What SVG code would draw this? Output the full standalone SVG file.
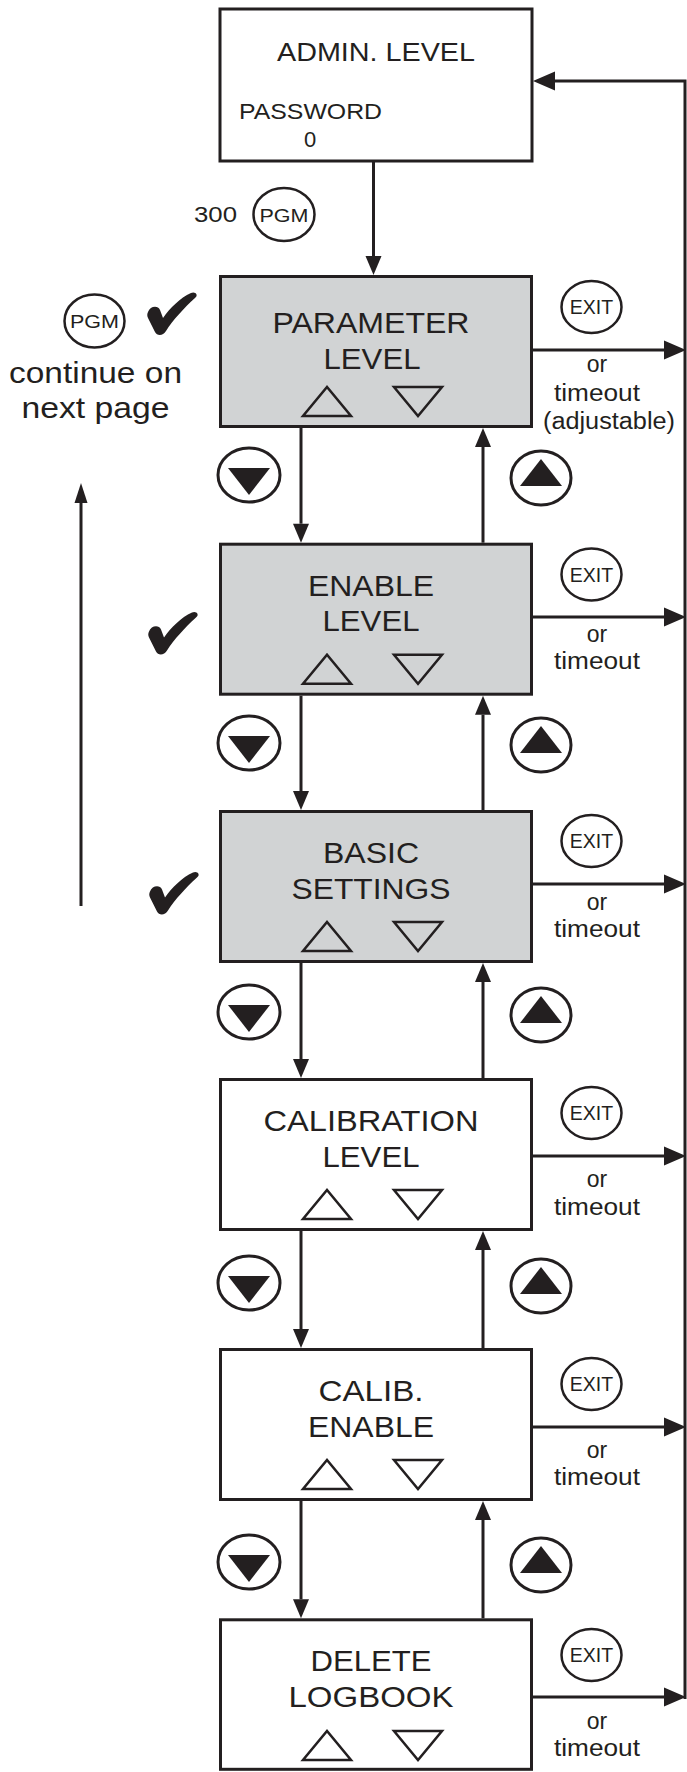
<svg xmlns="http://www.w3.org/2000/svg" width="687" height="1772" viewBox="0 0 687 1772">
<style>
text{font-family:"Liberation Sans",Arial,Helvetica,sans-serif;fill:#231f20}
.box{stroke:#231f20;stroke-width:3;fill:#fff}
.gray{fill:#d1d3d4}
.lbl{font-size:30px;text-anchor:middle}
.tri{fill:none;stroke:#231f20;stroke-width:2.5;stroke-linejoin:miter}
.btn{fill:#fff;stroke:#231f20;stroke-width:3}
.btri{fill:#231f20}
.oval{fill:#fff;stroke:#231f20;stroke-width:2.5}
.ex{font-size:19.5px;text-anchor:middle}
.pg{font-size:19px;text-anchor:middle}
.sm{font-size:23px;text-anchor:middle}
.ln{stroke:#231f20;stroke-width:3;fill:none}
.chk{fill:#231f20}
</style>
<defs>
<marker id="ah" markerWidth="19" markerHeight="16" refX="0" refY="8" orient="auto" markerUnits="userSpaceOnUse" overflow="visible"><path d="M0,0 L19,8 L0,16 Z" fill="#231f20"/></marker>
<marker id="ahx" markerWidth="22" markerHeight="19" refX="0" refY="9.5" orient="auto" markerUnits="userSpaceOnUse" overflow="visible"><path d="M0,0 L22,9.5 L0,19 Z" fill="#231f20"/></marker>
<marker id="ahs" markerWidth="20" markerHeight="13" refX="0" refY="6.5" orient="auto" markerUnits="userSpaceOnUse" overflow="visible"><path d="M0,0 L20,6.5 L0,13 Z" fill="#231f20"/></marker>
<path id="check" d="M2,20 C4,14 12,13 14,18 L17,26 C24,16 34,6 45,1 C49,-1 53,3 49,6 C38,16 27,28 20,39 C17,44 11,44 9,40 L2,26 C1,24 1,22 2,20 Z"/>
<path id="dtri" d="M-21,-7 L21,-7 L0,20 Z"/>
<path id="utri" d="M-21,8 L21,8 L0,-19 Z"/>
</defs>

<g id="connectors">
<line class="ln" x1="373.5" y1="161.5" x2="373.5" y2="256" marker-end="url(#ah)"/>
<line class="ln" x1="301" y1="428" x2="301" y2="523.7" marker-end="url(#ah)"/>
<line class="ln" x1="483" y1="542.7" x2="483" y2="447" marker-end="url(#ah)"/>
<line class="ln" x1="301" y1="695.7" x2="301" y2="791" marker-end="url(#ah)"/>
<line class="ln" x1="483" y1="810" x2="483" y2="714.7" marker-end="url(#ah)"/>
<line class="ln" x1="301" y1="963" x2="301" y2="1059" marker-end="url(#ah)"/>
<line class="ln" x1="483" y1="1078" x2="483" y2="982" marker-end="url(#ah)"/>
<line class="ln" x1="301" y1="1231" x2="301" y2="1329" marker-end="url(#ah)"/>
<line class="ln" x1="483" y1="1348" x2="483" y2="1250" marker-end="url(#ah)"/>
<line class="ln" x1="301" y1="1501" x2="301" y2="1599.3" marker-end="url(#ah)"/>
<line class="ln" x1="483" y1="1618.3" x2="483" y2="1520" marker-end="url(#ah)"/>
<line class="ln" x1="533" y1="350" x2="664" y2="350" marker-end="url(#ahx)"/>
<line class="ln" x1="533" y1="617" x2="664" y2="617" marker-end="url(#ahx)"/>
<line class="ln" x1="533" y1="884" x2="664" y2="884" marker-end="url(#ahx)"/>
<line class="ln" x1="533" y1="1156" x2="664" y2="1156" marker-end="url(#ahx)"/>
<line class="ln" x1="533" y1="1427" x2="664" y2="1427" marker-end="url(#ahx)"/>
<line class="ln" x1="533" y1="1697" x2="664" y2="1697" stroke-width="4" marker-end="url(#ahx)"/>
<polyline class="ln" stroke-width="2" points="685,1699 685,81 555,81"/>
<line class="ln" x1="555" y1="81" x2="555" y2="81"/>
<path d="M555,71.5 L533,81 L555,90.5 Z" fill="#231f20"/>
<line class="ln" stroke-width="2.5" x1="81" y1="906" x2="81" y2="503" marker-end="url(#ahs)"/>
</g>

<g id="admin">
<rect class="box" x="220" y="9" width="312" height="152"/>
<text x="376" y="61" font-size="26" text-anchor="middle" textLength="198" lengthAdjust="spacingAndGlyphs">ADMIN. LEVEL</text>
<text x="239" y="119" font-size="22" textLength="143" lengthAdjust="spacingAndGlyphs">PASSWORD</text>
<text x="310" y="147" font-size="22" text-anchor="middle">0</text>
</g>

<g id="pgm-entry">
<text x="194" y="221.5" font-size="22" textLength="43" lengthAdjust="spacingAndGlyphs">300</text>
<ellipse class="oval" cx="284" cy="214.5" rx="30.5" ry="26.5"/>
<text class="pg" x="284" y="221.5" textLength="49" lengthAdjust="spacingAndGlyphs">PGM</text>
</g>

<g id="continue-note">
<ellipse class="oval" cx="94.5" cy="321" rx="30" ry="26.5"/>
<text class="pg" x="94.5" y="328" textLength="49" lengthAdjust="spacingAndGlyphs">PGM</text>
<use href="#check" class="chk" x="146" y="292"/>
<text x="95.5" y="383" font-size="29" text-anchor="middle" textLength="173" lengthAdjust="spacingAndGlyphs">continue on</text>
<text x="95.5" y="418" font-size="29" text-anchor="middle" textLength="148" lengthAdjust="spacingAndGlyphs">next page</text>
</g>

<g id="parameter-level">
<rect class="box gray" x="220.5" y="276.5" width="311" height="150"/>
<text class="lbl" x="371" y="333.3" textLength="197" lengthAdjust="spacingAndGlyphs">PARAMETER</text>
<text class="lbl" x="372" y="369" textLength="97" lengthAdjust="spacingAndGlyphs">LEVEL</text>
<path class="tri" d="M303,416 L351,416 L327,387 Z"/>
<path class="tri" d="M394,387 L442,387 L418,416 Z"/>
<ellipse class="oval" cx="591.5" cy="307" rx="30" ry="26"/>
<text class="ex" x="591.5" y="314">EXIT</text>
<text class="sm" x="597" y="372">or</text>
<text class="sm" x="597" y="400.5" textLength="86" lengthAdjust="spacingAndGlyphs">timeout</text>
<text class="sm" x="609" y="428.5" textLength="132" lengthAdjust="spacingAndGlyphs">(adjustable)</text>
</g>

<g id="enable-level">
<rect class="box gray" x="220.5" y="544.2" width="311" height="150"/>
<text class="lbl" x="371" y="595.7" textLength="126" lengthAdjust="spacingAndGlyphs">ENABLE</text>
<text class="lbl" x="371" y="630.7" textLength="97" lengthAdjust="spacingAndGlyphs">LEVEL</text>
<path class="tri" d="M303,683.7 L351,683.7 L327,654.7 Z"/>
<path class="tri" d="M394,654.7 L442,654.7 L418,683.7 Z"/>
<use href="#check" class="chk" x="147" y="611.5"/>
<ellipse class="oval" cx="591.5" cy="574.5" rx="30" ry="26"/>
<text class="ex" x="591.5" y="581.5">EXIT</text>
<text class="sm" x="597" y="642">or</text>
<text class="sm" x="597" y="669" textLength="86" lengthAdjust="spacingAndGlyphs">timeout</text>
</g>

<g id="basic-settings">
<rect class="box gray" x="220.5" y="811.5" width="311" height="150"/>
<text class="lbl" x="371" y="863" textLength="96" lengthAdjust="spacingAndGlyphs">BASIC</text>
<text class="lbl" x="371" y="898.5" textLength="159" lengthAdjust="spacingAndGlyphs">SETTINGS</text>
<path class="tri" d="M303,951 L351,951 L327,922 Z"/>
<path class="tri" d="M394,922 L442,922 L418,951 Z"/>
<use href="#check" class="chk" x="148" y="871.5"/>
<ellipse class="oval" cx="591.5" cy="841" rx="30" ry="26"/>
<text class="ex" x="591.5" y="848">EXIT</text>
<text class="sm" x="597" y="910">or</text>
<text class="sm" x="597" y="937" textLength="86" lengthAdjust="spacingAndGlyphs">timeout</text>
</g>

<g id="calibration-level">
<rect class="box" x="220.5" y="1079.5" width="311" height="150"/>
<text class="lbl" x="371" y="1131" textLength="215" lengthAdjust="spacingAndGlyphs">CALIBRATION</text>
<text class="lbl" x="371" y="1166.5" textLength="97" lengthAdjust="spacingAndGlyphs">LEVEL</text>
<path class="tri" d="M303,1219 L351,1219 L327,1190 Z"/>
<path class="tri" d="M394,1190 L442,1190 L418,1219 Z"/>
<ellipse class="oval" cx="591.5" cy="1113" rx="30" ry="26"/>
<text class="ex" x="591.5" y="1120">EXIT</text>
<text class="sm" x="597" y="1187">or</text>
<text class="sm" x="597" y="1215" textLength="86" lengthAdjust="spacingAndGlyphs">timeout</text>
</g>

<g id="calib-enable">
<rect class="box" x="220.5" y="1349.5" width="311" height="150"/>
<text class="lbl" x="371" y="1401" textLength="105" lengthAdjust="spacingAndGlyphs">CALIB.</text>
<text class="lbl" x="371" y="1436.5" textLength="126" lengthAdjust="spacingAndGlyphs">ENABLE</text>
<path class="tri" d="M303,1489 L351,1489 L327,1460 Z"/>
<path class="tri" d="M394,1460 L442,1460 L418,1489 Z"/>
<ellipse class="oval" cx="591.5" cy="1384" rx="30" ry="26"/>
<text class="ex" x="591.5" y="1391">EXIT</text>
<text class="sm" x="597" y="1458">or</text>
<text class="sm" x="597" y="1485" textLength="86" lengthAdjust="spacingAndGlyphs">timeout</text>
</g>

<g id="delete-logbook">
<rect class="box" x="220.5" y="1619.8" width="311" height="149.5"/>
<text class="lbl" x="371" y="1671" textLength="121" lengthAdjust="spacingAndGlyphs">DELETE</text>
<text class="lbl" x="371" y="1706.7" textLength="165" lengthAdjust="spacingAndGlyphs">LOGBOOK</text>
<path class="tri" d="M303,1760 L351,1760 L327,1731 Z"/>
<path class="tri" d="M394,1731 L442,1731 L418,1760 Z"/>
<ellipse class="oval" cx="591.5" cy="1655" rx="30" ry="26"/>
<text class="ex" x="591.5" y="1662">EXIT</text>
<text class="sm" x="597" y="1728.5">or</text>
<text class="sm" x="597" y="1756" textLength="86" lengthAdjust="spacingAndGlyphs">timeout</text>
</g>

<g id="buttons">
<ellipse class="btn" cx="249" cy="475" rx="31" ry="27"/><use href="#dtri" class="btri" x="249" y="475"/>
<ellipse class="btn" cx="541" cy="478" rx="30" ry="27"/><use href="#utri" class="btri" x="541" y="478"/>
<ellipse class="btn" cx="249" cy="743" rx="31" ry="27"/><use href="#dtri" class="btri" x="249" y="743"/>
<ellipse class="btn" cx="541" cy="745" rx="30" ry="27"/><use href="#utri" class="btri" x="541" y="745"/>
<ellipse class="btn" cx="249" cy="1012" rx="31" ry="27"/><use href="#dtri" class="btri" x="249" y="1012"/>
<ellipse class="btn" cx="541" cy="1015" rx="30" ry="27"/><use href="#utri" class="btri" x="541" y="1015"/>
<ellipse class="btn" cx="249" cy="1283" rx="31" ry="27"/><use href="#dtri" class="btri" x="249" y="1283"/>
<ellipse class="btn" cx="541" cy="1286" rx="30" ry="27"/><use href="#utri" class="btri" x="541" y="1286"/>
<ellipse class="btn" cx="249" cy="1562" rx="31" ry="27"/><use href="#dtri" class="btri" x="249" y="1562"/>
<ellipse class="btn" cx="541" cy="1565" rx="30" ry="27"/><use href="#utri" class="btri" x="541" y="1565"/>
</g>
</svg>
